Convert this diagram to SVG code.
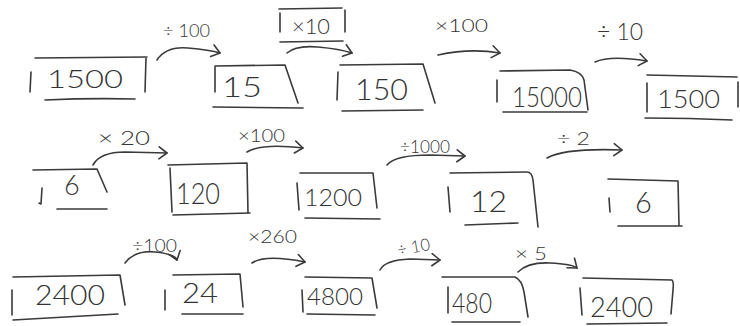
<svg xmlns="http://www.w3.org/2000/svg" width="740" height="326" viewBox="0 0 740 326">
<style>
.ln{fill:none;stroke:#3a3a3a;stroke-width:1.6;stroke-linecap:round;stroke-linejoin:round}
.num{font-family:Lato,"Liberation Sans",Arial,sans-serif;font-weight:300;fill:#333}
.lab{font-family:Lato,"Liberation Sans",Arial,sans-serif;font-weight:300;fill:#333;font-size:17px}
</style>
<defs>
<marker id="arr" viewBox="-10 -8 12 16" refX="0" refY="0" markerWidth="12" markerHeight="16" markerUnits="userSpaceOnUse" orient="auto">
<path d="M-8,-6 L0,0 L-8,6" fill="none" stroke="#3a3a3a" stroke-width="1.6" stroke-linecap="round" stroke-linejoin="round"/>
</marker>
</defs>
<rect width="740" height="326" fill="#fff"/>

<g id="connectors">
<path class="ln" marker-end="url(#arr)" d="M157,60 Q166,46 188,48 T220,53"/>
<text class="lab" x="163" y="37" textLength="47" lengthAdjust="spacingAndGlyphs">÷ 100</text>
<path class="ln" marker-end="url(#arr)" d="M287,53 Q296,45 318,47 T352,53"/>
<g id="label-x10">
<path class="ln" d="M279,9 L342,8 M280,13 L280,32 M345,10 L345,32 M280,42 L343,41"/>
<text class="num" x="292" y="34" font-size="22" textLength="38" lengthAdjust="spacingAndGlyphs">×10</text>
</g>
<path class="ln" marker-end="url(#arr)" d="M438,55 Q470,48 500,53"/>
<text class="lab" x="435" y="32" font-size="18" textLength="53" lengthAdjust="spacingAndGlyphs">×100</text>
<path class="ln" marker-end="url(#arr)" d="M595,62 Q610,55 647,61"/>
<text class="num" x="597" y="40" font-size="24" textLength="46" lengthAdjust="spacingAndGlyphs">÷ 10</text>

<path class="ln" marker-end="url(#arr)" d="M93,165 Q100,152 125,152 L167,153"/>
<text class="num" x="98" y="145" font-size="20" textLength="52" lengthAdjust="spacingAndGlyphs">× 20</text>
<path class="ln" marker-end="url(#arr)" d="M247,152 Q262,143 303,148"/>
<text class="lab" x="238" y="142" textLength="47" lengthAdjust="spacingAndGlyphs">×100</text>
<path class="ln" marker-end="url(#arr)" d="M387,165 Q395,155 430,155 L465,156"/>
<text class="lab" x="400" y="153" textLength="50" lengthAdjust="spacingAndGlyphs">÷1000</text>
<path class="ln" marker-end="url(#arr)" d="M547,158 Q565,148 622,150"/>
<text class="lab" x="557" y="145" font-size="18" textLength="33" lengthAdjust="spacingAndGlyphs">÷ 2</text>

<path class="ln" marker-end="url(#arr)" d="M125,263 Q135,250 155,252 T177,260"/>
<text class="lab" x="132" y="252" textLength="45" lengthAdjust="spacingAndGlyphs">÷100</text>
<path class="ln" marker-end="url(#arr)" d="M252,263 Q265,254 305,262"/>
<text class="lab" x="248" y="243" textLength="49" lengthAdjust="spacingAndGlyphs">×260</text>
<path class="ln" marker-end="url(#arr)" d="M380,270 Q385,260 410,259 L440,260"/>
<text class="lab" x="397" y="253" textLength="33" lengthAdjust="spacingAndGlyphs" transform="rotate(-10 413 247)">÷ 10</text>
<path class="ln" marker-end="url(#arr)" d="M518,272 Q528,262 550,263 T577,268"/>
<text class="lab" x="515" y="260" font-size="16" textLength="32" lengthAdjust="spacingAndGlyphs">× 5</text>
</g>

<g id="n1500a">
<path class="ln" d="M35,58 L147,57 M31,72 L30,92 M146,58 L145,92 M45,100 Q90,98 135,99"/>
<text class="num" x="47" y="88" font-size="26" textLength="76" lengthAdjust="spacingAndGlyphs">1500</text>
</g>
<g id="n15">
<path class="ln" d="M215,66 L285,65 L298,103 M215,67 L215,92 M213,107 L303,108"/>
<text class="num" x="222" y="97" font-size="27" textLength="40" lengthAdjust="spacingAndGlyphs">15</text>
</g>
<g id="n150">
<path class="ln" d="M340,65 L423,64 L435,103 M338,72 L337,100 M342,111 L423,110"/>
<text class="num" x="355" y="100" font-size="29" textLength="53" lengthAdjust="spacingAndGlyphs">150</text>
</g>
<g id="n15000">
<path class="ln" d="M500,71 L570,70 Q582,72 584,80 L588,110 M497,80 L497,102 M503,112 L587,112"/>
<text class="num" x="512" y="107" font-size="27" textLength="70" lengthAdjust="spacingAndGlyphs">15000</text>
</g>
<g id="n1500b">
<path class="ln" d="M647,75 L737,77 M647,83 L647,112 M738,82 L738,107 M645,118 Q690,118 732,120"/>
<text class="num" x="657" y="108" font-size="26" textLength="63" lengthAdjust="spacingAndGlyphs">1500</text>
</g>

<g id="n6a">
<path class="ln" d="M33,170 L97,169 L107,192 M42,188 L41,204 L39,203 M57,209 L107,209"/>
<text class="num" x="64" y="195" font-size="27">6</text>
</g>
<g id="n120">
<path class="ln" d="M168,165 L247,163 L248,213 M170,168 L172,212 M173,215 L250,213"/>
<text class="num" x="176" y="204" font-size="29" textLength="44" lengthAdjust="spacingAndGlyphs">120</text>
</g>
<g id="n1200">
<path class="ln" d="M300,173 L373,173 L377,208 M297,183 L299,210 M305,218 L380,219"/>
<text class="num" x="304" y="206" font-size="24" textLength="58" lengthAdjust="spacingAndGlyphs">1200</text>
</g>
<g id="n12">
<path class="ln" d="M450,173 L527,172 Q532,172 533,180 L538,227 M448,187 L450,212 M465,225 L518,223"/>
<text class="num" x="470" y="212" font-size="29" textLength="37" lengthAdjust="spacingAndGlyphs">12</text>
</g>
<g id="n6b">
<path class="ln" d="M608,179 L678,181 L679,225 M609,198 L610,212 M618,226 L682,226"/>
<text class="num" x="635" y="213" font-size="29">6</text>
</g>

<g id="n2400a">
<path class="ln" d="M13,277 L120,275 L125,305 M12,290 L12,315 M13,320 L118,314"/>
<text class="num" x="35" y="305" font-size="27" textLength="70" lengthAdjust="spacingAndGlyphs">2400</text>
</g>
<g id="n24">
<path class="ln" d="M173,275 L240,274 L243,307 M165,290 L165,310 M182,314 L243,314"/>
<text class="num" x="182" y="303" font-size="27" textLength="36" lengthAdjust="spacingAndGlyphs">24</text>
</g>
<g id="n4800">
<path class="ln" d="M305,277 L372,278 L377,308 M302,290 L303,312 M307,314 L375,315"/>
<text class="num" x="307" y="305" font-size="23" textLength="56" lengthAdjust="spacingAndGlyphs">4800</text>
</g>
<g id="n480">
<path class="ln" d="M442,277 L515,277 Q522,280 524,292 L528,317 M448,287 L448,313 M452,322 L520,322"/>
<text class="num" x="452" y="313" font-size="27" textLength="40" lengthAdjust="spacingAndGlyphs">480</text>
</g>
<g id="n2400b">
<path class="ln" d="M583,278 L672,280 Q674,282 673,290 L671,314 M580,288 L582,315 M587,324 L667,323"/>
<text class="num" x="590" y="317" font-size="27" textLength="63" lengthAdjust="spacingAndGlyphs">2400</text>
</g>
</svg>
